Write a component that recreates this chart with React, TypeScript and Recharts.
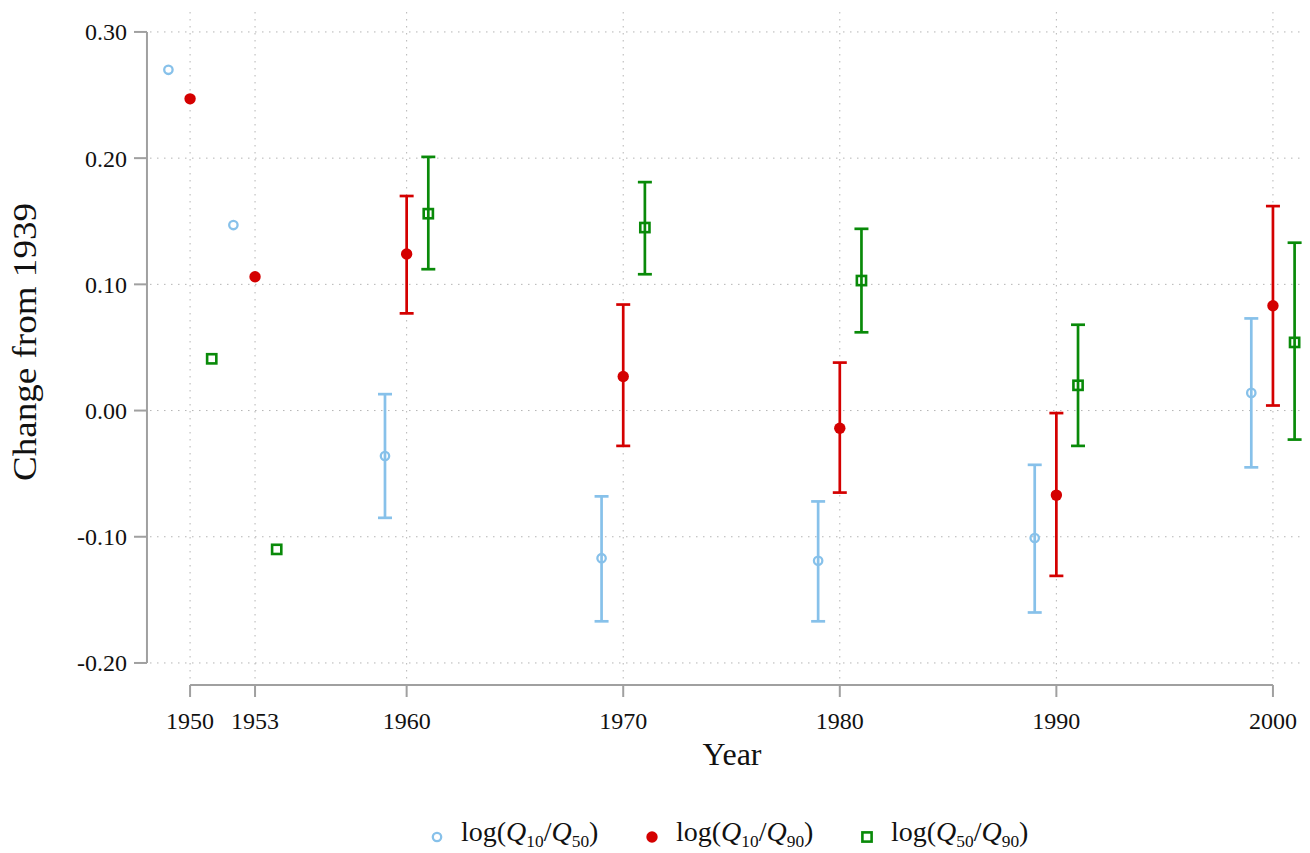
import { CartesianGrid, ErrorBar, ReferenceLine, Scatter, ScatterChart, XAxis, YAxis } from 'recharts';

const years = [1950, 1953, 1960, 1970, 1980, 1990, 2000];
const yTicks = [-0.2, -0.1, 0, 0.1, 0.2, 0.3];

// log(Q10/Q50), plotted one year before
const q1050 = [0.27, 0.147, -0.036, -0.117, -0.119, -0.101, 0.014];
const q1050Lo = [null, null, -0.085, -0.167, -0.167, -0.16, -0.045];
const q1050Hi = [null, null, 0.013, -0.068, -0.072, -0.043, 0.073];

// log(Q10/Q90), plotted on the year
const q1090 = [0.247, 0.106, 0.124, 0.027, -0.014, -0.067, 0.083];
const q1090Lo = [null, null, 0.077, -0.028, -0.065, -0.131, 0.004];
const q1090Hi = [null, null, 0.17, 0.084, 0.038, -0.002, 0.162];

// log(Q50/Q90), plotted one year after
const q5090 = [0.041, -0.11, 0.156, 0.145, 0.103, 0.02, 0.054];
const q5090Lo = [null, null, 0.112, 0.108, 0.062, -0.028, -0.023];
const q5090Hi = [null, null, 0.201, 0.181, 0.144, 0.068, 0.133];

const BLUE = '#87c1ea';
const RED = '#d40000';
const GREEN = '#098a09';
const AXIS = '#a0a0a0';
const FONT = '"Liberation Serif", serif';

type Pt = { x: number; y: number; err?: [number, number] };

function build(vals: number[], lo: (number | null)[], hi: (number | null)[], shift: number): Pt[] {
  return vals.map((v, i) => {
    const l = lo[i];
    const h = hi[i];
    const p: Pt = { x: years[i] + shift, y: v };
    if (l != null && h != null) p.err = [v - l, h - v];
    return p;
  });
}

const blueData = build(q1050, q1050Lo, q1050Hi, -1);
const redData = build(q1090, q1090Lo, q1090Hi, 0);
const greenData = build(q5090, q5090Lo, q5090Hi, 1);

const xDomain: [number, number] = [1948.15, 2001.48];
const yDomain: [number, number] = [-0.2135, 0.3158];

const YTick = ({ x, y, payload }: any) => (
  <g>
    <line x1={x - 16} x2={x - 3} y1={y} y2={y} stroke={AXIS} strokeWidth={2} />
    <text x={x - 23} y={y} dy="0.35em" textAnchor="end" fontSize={24} fontFamily={FONT} fill="#111">
      {Number(payload.value).toFixed(2)}
    </text>
  </g>
);

const XTick = ({ x, y, payload }: any) => (
  <g>
    <line x1={x} x2={x} y1={y + 5} y2={y + 17} stroke={AXIS} strokeWidth={2} />
    <text x={x} y={y + 49} textAnchor="middle" fontSize={24} fontFamily={FONT} fill="#111">
      {payload.value}
    </text>
  </g>
);

const YTitle = () => (
  <text
    x={36}
    y={342}
    transform="rotate(-90 36 342)"
    textAnchor="middle"
    fontSize={34}
    fontFamily={FONT}
    fill="#111"
    textLength={278}
    lengthAdjust="spacingAndGlyphs"
  >
    Change from 1939
  </text>
);

const XTitle = () => (
  <text x={732} y={765} textAnchor="middle" fontSize={32} fontFamily={FONT} fill="#111">
    Year
  </text>
);

const HollowCircle = (p: any) => <circle cx={p.cx} cy={p.cy} r={4.2} fill="none" stroke={BLUE} strokeWidth={2.3} />;
const Dot = (p: any) => <circle cx={p.cx} cy={p.cy} r={5.7} fill={RED} />;
const Square = (p: any) => (
  <rect x={p.cx - 4.6} y={p.cy - 4.6} width={9.2} height={9.2} fill="none" stroke={GREEN} strokeWidth={2.6} />
);

function Label({ a, b }: { a: string; b: string }) {
  const sub = { fontSize: '0.62em', verticalAlign: '-0.35em', fontStyle: 'normal' } as const;
  return (
    <span>
      log(<i>Q</i>
      <span style={sub}>{a}</span>/<i>Q</i>
      <span style={sub}>{b}</span>)
    </span>
  );
}

const legendItems = [
  { key: 'b', a: '10', b: '50', marker: <circle cx={7} cy={7} r={4.2} fill="none" stroke={BLUE} strokeWidth={2.3} /> },
  { key: 'r', a: '10', b: '90', marker: <circle cx={7} cy={7} r={5.7} fill={RED} /> },
  { key: 'g', a: '50', b: '90', marker: <rect x={2.4} y={2.4} width={9.2} height={9.2} fill="none" stroke={GREEN} strokeWidth={2.6} /> },
];

export default function App() {
  return (
    <div style={{ position: 'absolute', left: 0, top: 0, width: 1310, height: 853, background: '#fff' }}>
      <ScatterChart width={1310} height={853} margin={{ top: 12, right: 5, bottom: 0, left: 0 }}>
        <CartesianGrid stroke="#b4b4b4" strokeDasharray="1.5 5.5" syncWithTicks />
        <XAxis
          type="number"
          dataKey="x"
          domain={xDomain}
          allowDataOverflow
          ticks={years}
          interval={0}
          height={173}
          axisLine={false}
          tickLine={false}
          tickSize={0}
          tickMargin={0}
          tick={<XTick />}
          label={<XTitle />}
        />
        <YAxis
          type="number"
          dataKey="y"
          domain={yDomain}
          allowDataOverflow
          ticks={yTicks}
          interval={0}
          width={150}
          axisLine={false}
          tickLine={false}
          tickSize={0}
          tickMargin={0}
          tick={<YTick />}
          label={<YTitle />}
        />
        <ReferenceLine
          segment={[{ x: 1948.01, y: 0.3 }, { x: 1948.01, y: -0.2 }]}
          stroke={AXIS}
          strokeWidth={2}
          ifOverflow="visible"
        />
        <ReferenceLine
          segment={[{ x: 1950, y: -0.2175 }, { x: 2000, y: -0.2175 }]}
          stroke={AXIS}
          strokeWidth={2}
          ifOverflow="visible"
        />
        <Scatter data={blueData} shape={HollowCircle} isAnimationActive={false}>
          <ErrorBar dataKey="err" direction="y" width={7} stroke={BLUE} strokeWidth={2.7} />
        </Scatter>
        <Scatter data={redData} shape={Dot} isAnimationActive={false}>
          <ErrorBar dataKey="err" direction="y" width={7} stroke={RED} strokeWidth={2.7} />
        </Scatter>
        <Scatter data={greenData} shape={Square} isAnimationActive={false}>
          <ErrorBar dataKey="err" direction="y" width={7} stroke={GREEN} strokeWidth={2.7} />
        </Scatter>
      </ScatterChart>
      <div
        style={{
          position: 'absolute',
          top: 814,
          left: 430,
          display: 'flex',
          fontFamily: FONT,
          fontSize: 28,
          color: '#111',
          lineHeight: '36px',
        }}
      >
        {legendItems.map((it) => (
          <div key={it.key} style={{ display: 'flex', alignItems: 'center', gap: 17, width: 215 }}>
            <svg width={14} height={14}>{it.marker}</svg>
            <Label a={it.a} b={it.b} />
          </div>
        ))}
      </div>
    </div>
  );
}
